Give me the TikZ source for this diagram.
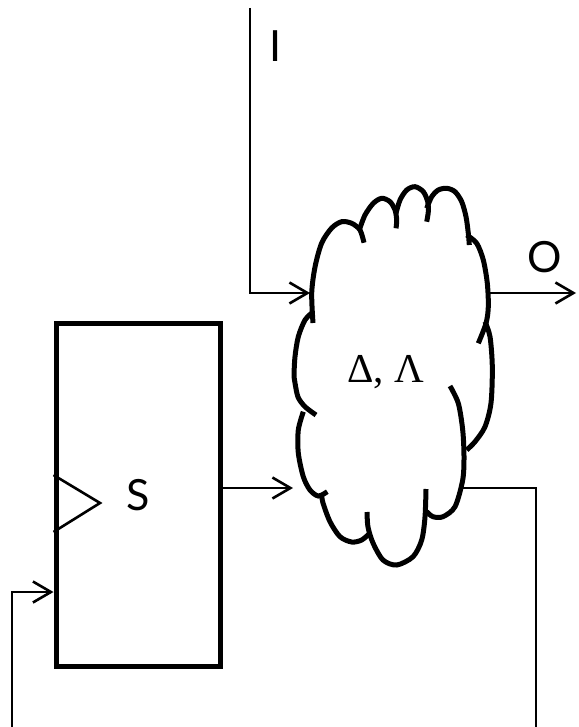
\documentclass[tikz,border=0pt]{standalone}
\usepackage{fontspec}
\newfontfamily\lblfont{Lato}
\newfontfamily\grkfont{Liberation Serif}
\usepackage{tikz}
\usetikzlibrary{arrows.meta, positioning, calc}

\begin{document}
\begin{tikzpicture}[
    x=0.5pt, y=-0.5pt,
    wire/.style={line width=1.3pt},
    arrow/.style={wire, -{Straight Barb[length=9pt, width=10.5pt]}},
    puff/.style={line width=2.5pt},
    register/.style={draw, line width=2.5pt, minimum width=82pt, minimum height=171.5pt, inner sep=0pt},
    label/.style={font=\lblfont\fontsize{21.5}{25}\selectfont, inner sep=0pt}
]
\useasboundingbox (0,0) rectangle (578,727);
\clip (0,0) rectangle (578,727);

% State register
\node[register, label] (reg) at (138,495.3) {S};
\draw[wire] (reg.west |- 0,475) -- (100,503) -- (reg.west |- 0,532);

% Logic cloud
\node[font=\grkfont\fontsize{20.5}{24}\selectfont, inner sep=0pt, anchor=base] (logic) at (385.5,382) {Δ, Λ};
\draw[puff] plot[smooth] coordinates {(313,323) (311.7,293) (315,267) (321.7,243) (331.7,228) (341.7,221.7) (351.7,223.3) (360,230) (364,242.7)};
\draw[puff] plot[smooth] coordinates {(359.3,230) (365,215) (373.3,203.3) (381.7,198.3) (390,201.7) (395,210) (396.7,220) (396,228.3)};
\draw[puff] plot[smooth] coordinates {(396,213.3) (400,200) (406.7,190) (415,186.7) (423.3,191.7) (427.7,201.7) (428.3,211.7) (426.7,221.7)};
\draw[puff] plot[smooth] coordinates {(426.7,208.3) (431.7,196.7) (438.3,190) (446.7,188.3) (455,191.7) (461.7,201.7) (466,216.7) (468.3,233.3) (469.3,245)};
\draw[puff] plot[smooth] coordinates {(466.7,235) (476.7,243.3) (483.3,260) (487.3,283.3) (488.3,306.7) (486,323.3) (478.3,343.3)};
\draw[puff] plot[smooth] coordinates {(485,321.7) (490,336.7) (492.3,366.7) (491,403) (485,426.7) (475,441.7) (466.7,450)};
\draw[puff] plot[smooth] coordinates {(450,386) (458.3,403.3) (462.7,430) (464,456.7) (462.7,480) (455,506.7) (443,516.7) (433,516.7) (426.7,511.7)};
\draw[puff] plot[smooth] coordinates {(426,489) (425,517) (421.7,540) (413,556.7) (396.7,565) (383,560) (373,543) (368,527) (367,512)};
\draw[puff] plot[smooth] coordinates {(370,533) (361.7,540) (351.7,542) (340,536.7) (330,521.7) (323,503) (321.7,495)};
\draw[puff] plot[smooth] coordinates {(303.3,411.7) (298.3,430) (298.3,453) (303.3,476.7) (310,490) (318.3,496) (327.3,491.7)};
\draw[puff] plot[smooth] coordinates {(313,312) (305,320) (298.3,336.7) (295,356.7) (294,376.7) (295,383) (298,397) (305,406.7) (316,415)};

% Cloud ports
\coordinate (cin) at (310,293);
\coordinate (cout) at (490,293);
\coordinate (sin) at (293,488);
\coordinate (fbout) at (462,488);

% Free ends
\coordinate (itop) at (250,8);
\coordinate (oend) at (576,293);
\coordinate (fbr) at (536,760);
\coordinate (fbl) at (12,760);

% Labels
\node[label, anchor=base] (ilbl) at (276,62) {I};
\node[label, anchor=base] (olbl) at (545,272) {O};

% Connections
\draw[arrow] (itop) |- (cin);
\draw[arrow] (cout) -- (oend);
\draw[arrow] (reg.east |- sin) -- (sin);
\draw[arrow] (fbout) -| (fbr) -- (fbl) |- (reg.west |- 0,592);

\end{tikzpicture}
\end{document}
